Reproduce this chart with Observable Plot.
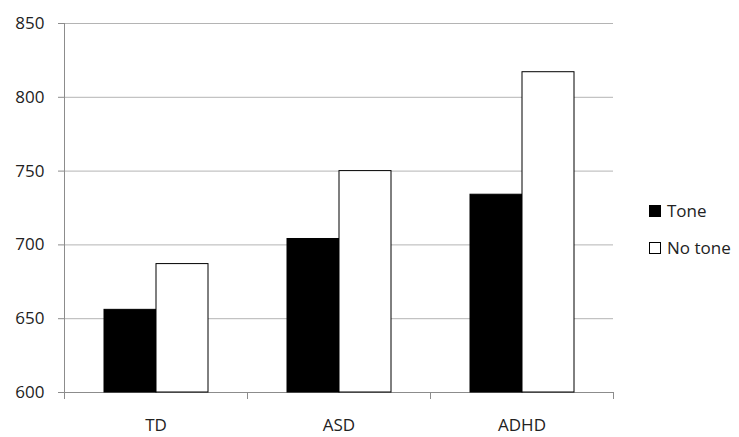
<!DOCTYPE html>
<html>
<head>
<meta charset="utf-8">
<script src="https://cdn.jsdelivr.net/npm/d3@7"></script>
<script src="https://cdn.jsdelivr.net/npm/@observablehq/plot@0.6"></script>
<style>
  html, body { margin: 0; padding: 0; background: white; }
  #wrap { position: relative; width: 739px; height: 437px; font-family: 'Open Sans', sans-serif; color: #222; }
  #legend { position: absolute; left: 649px; top: 192px; font-size: 17px; line-height: 37px; }
  .row { display: flex; align-items: center; height: 37px; }
  .sw { width: 10px; height: 10px; border: 1px solid #000; margin-right: 6px; box-sizing: content-box; }
</style>
</head>
<body>
<div id="wrap"><div id="legend"></div></div>
<script>
const groups = ["TD", "ASD", "ADHD"];
const series = ["Tone", "No tone"];
const toneValues = [656, 704, 734];
const noToneValues = [687, 750, 817];
const yTicks = [600, 650, 700, 750, 800, 850];
const seriesColors = ["#000000", "#ffffff"];

const data = groups.flatMap((g, i) => [
  {group: g, cond: series[0], value: toneValues[i]},
  {group: g, cond: series[1], value: noToneValues[i]}
]);

const W = 739, H = 437, mL = 63, mR = 125, mT = 23, mB = 45;
const innerH = H - mT - mB;
const axisColor = "#8c8c8c";
const gridColor = "#b4b4b4";

const chart = Plot.plot({
  width: W, height: H,
  marginLeft: mL, marginRight: mR, marginTop: mT, marginBottom: mB,
  style: {fontFamily: "'Open Sans', sans-serif", fontSize: "17px", color: "#222", background: "white", overflow: "visible"},
  fx: {domain: groups, paddingInner: 0, paddingOuter: 0, label: null},
  x: {domain: series, paddingInner: 0, paddingOuter: 0.75, axis: null},
  y: {domain: [yTicks[0], yTicks[yTicks.length - 1]], label: null},
  color: {domain: series, range: seriesColors},
  marks: [
    Plot.gridY(yTicks, {stroke: gridColor, strokeOpacity: 1}),
    Plot.ruleY([yTicks[0]], {stroke: axisColor}),
    Plot.frame({anchor: "left", facetAnchor: "left", stroke: axisColor}),
    Plot.frame({anchor: "left", stroke: axisColor, insetTop: innerH, insetBottom: -6}),
    Plot.frame({anchor: "right", facetAnchor: "right", stroke: axisColor, insetTop: innerH, insetBottom: -6}),
    Plot.barY(data, {fx: "group", x: "cond", y1: yTicks[0], y2: "value", fill: "cond", stroke: "#000", strokeWidth: 1}),
    Plot.axisY(yTicks, {tickSize: 6, tickPadding: 14, stroke: axisColor, fill: "#222", label: null}),
    Plot.axisFx({anchor: "bottom", tickSize: 0, tickPadding: 26, fill: "#222", label: null})
  ]
});
document.getElementById("wrap").prepend(chart);

const legend = document.getElementById("legend");
series.forEach((s, i) => {
  const row = document.createElement("div");
  row.className = "row";
  const sw = document.createElement("span");
  sw.className = "sw";
  sw.style.background = seriesColors[i];
  const t = document.createElement("span");
  t.textContent = s;
  row.append(sw, t);
  legend.append(row);
});
</script>
</body>
</html>
